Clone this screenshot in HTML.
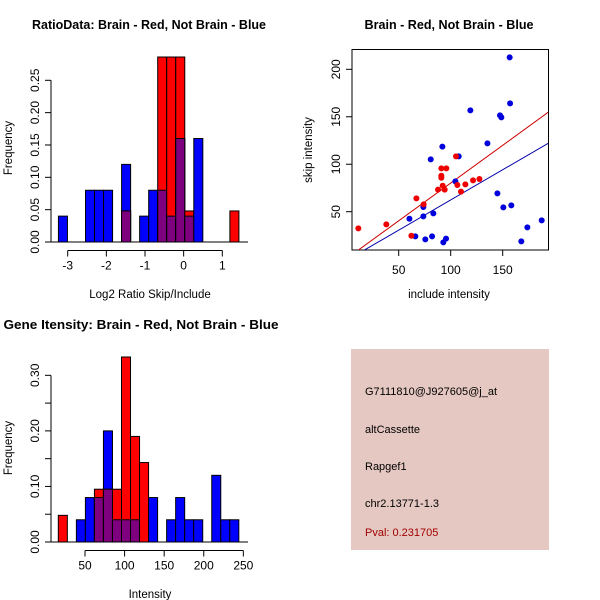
<!DOCTYPE html>
<html><head><meta charset="utf-8"><style>
body{margin:0;background:#fff}
svg{display:block;font-family:"Liberation Sans",sans-serif}
</style></head><body>
<svg id="s" width="600" height="600" viewBox="0 0 600 600">
<rect width="600" height="600" fill="#fff"/>
<defs><clipPath id="sc"><rect x="352" y="49" width="196" height="201"/></clipPath></defs>
<g id="p1"></g>
<g id="p2"></g>
<g id="p3"></g>
<g id="p4">
<rect x="351" y="349" width="198" height="201" fill="#E5C8C1"/>
<text x="365" y="395" font-size="11">G7111810@J927605@j_at</text>
<text x="365" y="433" font-size="11">altCassette</text>
<text x="365" y="470" font-size="11">Rapgef1</text>
<text x="365" y="507" font-size="11">chr2.13771-1.3</text>
<text x="365" y="536" font-size="11" fill="#A00000">Pval: 0.231705</text>
</g>
</svg>
<script>
// ---- Ratio histogram data ----
const ratioBinStart = -3.24, ratioBinWidth = 0.2335;
const ratioBlue = [0.04,0,0,0.08,0.08,0.08,0,0.12,0,0.04,0.08,0.08,0.04,0.16,0.04,0.16,0,0,0,0];
const ratioRed  = [0,0,0,0,0,0,0,0.048,0,0,0,0.286,0.286,0.286,0.048,0,0,0,0,0.048];
const ratioXTicks = [-3,-2,-1,0,1];
const ratioYTicks = [0,0.05,0.10,0.15,0.20,0.25];
const ratioYLabels = ["0.00","0.05","0.10","0.15","0.20","0.25"];
// ---- Scatter data ----
const redX = [11.2,38.1,62.2,67.0,74.0,87.8,91.0,91.0,91.0,92.3,94.2,95.8,105.1,106.4,109.9,114.1,121.5,127.6];
const redY = [32.4,36.7,24.7,64.0,57.7,73.2,95.6,87.9,85.8,77.4,73.2,95.6,108.3,78.1,71.1,78.8,83.0,84.4];
const blueX = [60.3,66.0,73.7,73.7,75.6,80.8,82.1,83.3,92.0,92.9,95.5,104.5,107.7,118.9,135.3,144.9,147.4,148.7,150.6,157.1,156.7,158.3,167.9,173.7,187.5];
const blueY = [42.6,24.0,54.9,45.1,20.9,105.1,24.0,48.2,118.5,17.7,21.6,82.0,108.3,156.7,122.0,69.3,151.5,149.4,54.6,164.1,212.6,56.7,18.8,33.5,40.9];
const redFit = [0.7, 0.795];
const blueFit = [-1.2, 0.636];
const scXTicks = [50,100,150];
const scYTicks = [50,100,150,200];
// ---- Gene intensity histogram ----
const geneBinStart = 16.3, geneBinWidth = 11.4;
const geneBlue = [0,0,0.04,0.08,0.08,0.2,0.04,0.04,0.04,0,0.08,0,0.04,0.08,0.04,0.04,0,0.12,0.04,0.04];
const geneRed  = [0.048,0,0,0,0.095,0.095,0.095,0.333,0.19,0.143,0,0,0,0,0,0,0,0,0,0];
const geneXTicks = [50,100,150,200,250];
const geneYTicks = [0,0.05,0.10,0.15,0.20,0.25,0.30];
const geneYLabels = ["0.00","","0.10","","0.20","","0.30"];

const NS="http://www.w3.org/2000/svg";
function mk(parent,tag,attrs,text){const e=document.createElementNS(NS,tag);for(const k in attrs)e.setAttribute(k,attrs[k]);if(text!==undefined)e.textContent=text;parent.appendChild(e);return e;}

function hist(g,cfg){
  const xs=v=>cfg.x0px+(v-cfg.x0)*cfg.xk, ys=v=>cfg.y0px-v*cfg.yk;
  const n=cfg.blue.length;
  for(let i=0;i<n;i++){
    const a=cfg.start+i*cfg.w, b=a+cfg.w;
    const x=xs(a), wpx=xs(b)-xs(a);
    const bl=cfg.blue[i], rd=cfg.red[i], mn=Math.min(bl,rd);
    if(bl>0){const r=mk(g,'rect',{x:x,y:ys(bl),width:wpx,height:bl*cfg.yk,fill:'#0000FF',stroke:'#000','stroke-width':1});
      }
    if(rd>0){const r=mk(g,'rect',{x:x,y:ys(rd),width:wpx,height:rd*cfg.yk,fill:'#FF0000',stroke:'#000','stroke-width':1});
      }
    if(mn>0){const r=mk(g,'rect',{x:x,y:ys(mn),width:wpx,height:mn*cfg.yk,fill:'#7F007F',stroke:'#000','stroke-width':1});
      }
  }
  mk(g,'line',{x1:cfg.axL,x2:cfg.axR,y1:cfg.y0px,y2:cfg.y0px,stroke:'#000'});
  const xa=cfg.xAxisY;
  mk(g,'line',{x1:xs(cfg.xt[0]),x2:xs(cfg.xt[cfg.xt.length-1]),y1:xa,y2:xa,stroke:'#000'});
  cfg.xt.forEach(t=>{mk(g,'line',{x1:xs(t),x2:xs(t),y1:xa,y2:xa+6,stroke:'#000'});
    const l=mk(g,'text',{x:xs(t),y:xa+19,'font-size':12,'text-anchor':'middle'},String(t));
    });
  const yt=cfg.yt;
  mk(g,'line',{x1:51,x2:51,y1:ys(yt[0]),y2:ys(yt[yt.length-1]),stroke:'#000'});
  yt.forEach((t,i)=>{mk(g,'line',{x1:45,x2:51,y1:ys(t),y2:ys(t),stroke:'#000'});
    if(cfg.yl[i]){const l=mk(g,'text',{x:0,y:0,'font-size':12,'text-anchor':'middle',transform:`translate(39,${ys(t)}) rotate(-90)`},cfg.yl[i]);
    }});
  const t=mk(g,'text',{x:cfg.titleX,y:cfg.titleY,'font-size':12.5,'font-weight':'bold','text-anchor':'middle',textLength:cfg.titleW,lengthAdjust:'spacingAndGlyphs'},cfg.title);
  
  const xl=mk(g,'text',{x:150,y:cfg.xlabY,'font-size':11.5,'text-anchor':'middle'},cfg.xlab);
  
  const yl=mk(g,'text',{x:0,y:0,'font-size':11.5,'text-anchor':'middle',transform:`translate(12,${cfg.ylabMid}) rotate(-90)`},'Frequency');
  
}

hist(document.getElementById('p1'),{blue:ratioBlue,red:ratioRed,start:ratioBinStart,w:ratioBinWidth,
  x0:-3,x0px:67.7,xk:38.65,y0px:242,yk:646.8,axL:51,axR:248,xAxisY:250.5,xt:ratioXTicks,yt:ratioYTicks,yl:ratioYLabels,
  title:'RatioData: Brain - Red, Not Brain - Blue',titleX:149,titleW:234,titleY:29,xlab:'Log2 Ratio Skip/Include',xlabY:298,ylabMid:148});
hist(document.getElementById('p3'),{blue:geneBlue,red:geneRed,start:geneBinStart,w:geneBinWidth,
  x0:50,x0px:85,xk:0.7917,y0px:542,yk:555.6,axL:51,axR:248,xAxisY:550.5,xt:geneXTicks,yt:geneYTicks,yl:geneYLabels,
  title:'Gene Itensity: Brain - Red, Not Brain - Blue',titleX:141,titleW:275,titleY:329,xlab:'Intensity',xlabY:598,ylabMid:448});

(function(){
  const g=document.getElementById('p2');
  const xs=v=>398.7+(v-50)*1.04, ys=v=>211.7-(v-50)*0.9493;
  mk(g,'rect',{x:352,y:49.5,width:196.5,height:200.5,fill:'none',stroke:'#000'});
  const lg=mk(g,'g',{'clip-path':'url(#sc)'});
  [[redFit,'#CC0000','red-fit-line'],[blueFit,'#0000AA','blue-fit-line']].forEach(([f,c,n])=>{
    const l=mk(lg,'line',{x1:xs(0),y1:ys(f[0]),x2:xs(200),y2:ys(f[0]+f[1]*200),stroke:c,'stroke-width':1});
    });
  blueX.forEach((x,i)=>{const c=mk(g,'circle',{cx:xs(x),cy:ys(blueY[i]),r:3,fill:'#0000DD'});
    });
  redX.forEach((x,i)=>{const c=mk(g,'circle',{cx:xs(x),cy:ys(redY[i]),r:3,fill:'#EE0000'});
    });
  scXTicks.forEach(t=>{mk(g,'line',{x1:xs(t),x2:xs(t),y1:250,y2:256,stroke:'#000'});
    const l=mk(g,'text',{x:xs(t),y:274,'font-size':12,'text-anchor':'middle'},String(t));
    });
  scYTicks.forEach(t=>{mk(g,'line',{x1:346,x2:352,y1:ys(t),y2:ys(t),stroke:'#000'});
    const l=mk(g,'text',{x:0,y:0,'font-size':12,'text-anchor':'middle',transform:`translate(340,${ys(t)}) rotate(-90)`},String(t));
    });
  const t=mk(g,'text',{x:449,y:29,'font-size':12.5,'font-weight':'bold','text-anchor':'middle',textLength:169,lengthAdjust:'spacingAndGlyphs'},'Brain - Red, Not Brain - Blue');
  
  const xl=mk(g,'text',{x:449,y:298,'font-size':11.5,'text-anchor':'middle'},'include intensity');
  
  const yl=mk(g,'text',{x:0,y:0,'font-size':11.5,'text-anchor':'middle',transform:'translate(312,150) rotate(-90)'},'skip intensity');
  
})();
</script>
</body></html>
